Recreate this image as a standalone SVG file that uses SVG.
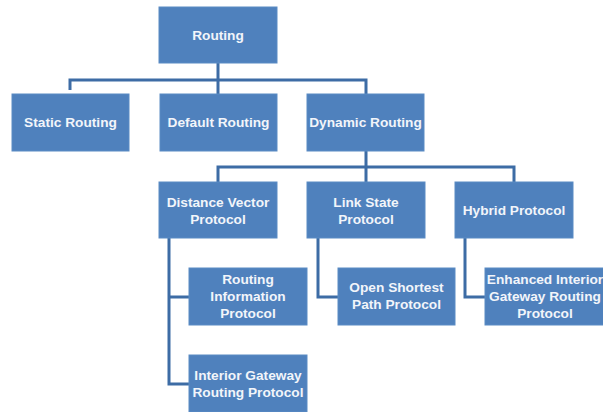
<svg xmlns="http://www.w3.org/2000/svg" width="603" height="412" viewBox="0 0 603 412">
<style>
.box{fill:#4F81BD;stroke:#5B8BC4;stroke-width:1}
.t{font-family:"Liberation Sans",Arial,sans-serif;font-size:13.7px;font-weight:bold;fill:#F2F5FA;text-anchor:middle}
.c{fill:none;stroke:#3D6CA5;stroke-width:3}
</style>
<rect width="603" height="412" fill="#FFFFFF"/>
<g id="connectors">
<path class="c" d="M218,63 V80 M70,90 V80 H366 V94 M218,80 V94"/>
<path class="c" d="M366,151 V182 M218,182 V167 H514 V182"/>
<path class="c" d="M169,238 V384 H189 M169,297 H189"/>
<path class="c" d="M318,238 V297 H338"/>
<path class="c" d="M465,238 V297 H485"/>
</g>
<g id="routing"><rect class="box" x="159" y="7" width="118" height="56"/><text class="t" x="218" y="40">Routing</text></g>
<g id="static"><rect class="box" x="12" y="94" width="117" height="57"/><text class="t" x="70.5" y="127">Static Routing</text></g>
<g id="default"><rect class="box" x="160" y="94" width="117" height="57"/><text class="t" x="218.5" y="127">Default Routing</text></g>
<g id="dynamic"><rect class="box" x="307" y="94" width="117" height="57"/><text class="t" x="365.5" y="127">Dynamic Routing</text></g>
<g id="distance"><rect class="box" x="159" y="182" width="118" height="56"/><text class="t" x="218" y="207">Distance Vector</text><text class="t" x="218" y="224">Protocol</text></g>
<g id="linkstate"><rect class="box" x="307" y="182" width="118" height="56"/><text class="t" x="366" y="207">Link State</text><text class="t" x="366" y="224">Protocol</text></g>
<g id="hybrid"><rect class="box" x="455" y="182" width="118" height="56"/><text class="t" x="514" y="215">Hybrid Protocol</text></g>
<g id="rip"><rect class="box" x="189" y="268" width="118" height="57"/><text class="t" x="248" y="284">Routing</text><text class="t" x="248" y="301">Information</text><text class="t" x="248" y="318">Protocol</text></g>
<g id="igrp"><rect class="box" x="189" y="355" width="118" height="57"/><text class="t" x="248" y="380">Interior Gateway</text><text class="t" x="248" y="397">Routing Protocol</text></g>
<g id="ospf"><rect class="box" x="338" y="268" width="117" height="57"/><text class="t" x="396.5" y="292">Open Shortest</text><text class="t" x="396.5" y="309">Path Protocol</text></g>
<g id="eigrp"><rect class="box" x="485" y="268" width="120" height="57"/><text class="t" x="545" y="284">Enhanced Interior</text><text class="t" x="545" y="301">Gateway Routing</text><text class="t" x="545" y="318">Protocol</text></g>
</svg>
